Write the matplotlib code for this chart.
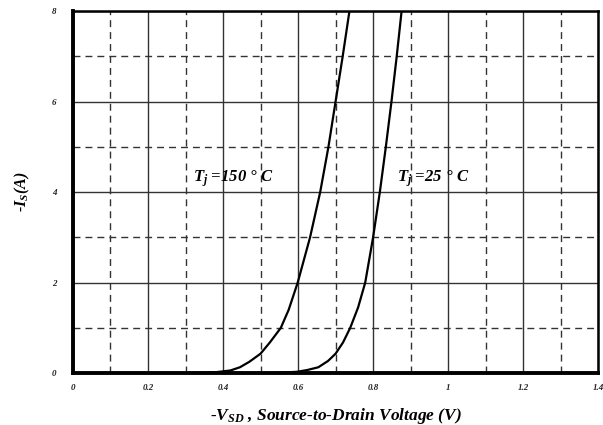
import matplotlib
matplotlib.use('Agg')
import matplotlib.pyplot as plt
from matplotlib.ticker import MultipleLocator

# curve readings (V, A)
v_150 = [0.0, 0.30, 0.38, 0.42, 0.445, 0.47, 0.50, 0.525, 0.554, 0.575, 0.599, 0.632,
         0.659, 0.681, 0.700, 0.719, 0.737]
i_150 = [0.0, 0.0, 0.02, 0.06, 0.13, 0.25, 0.43, 0.68, 1.0, 1.4, 2.0, 3.0,
         4.0, 5.0, 6.0, 7.0, 8.0]
v_25 = [0.527, 0.597, 0.625, 0.654, 0.68, 0.70, 0.72, 0.739, 0.76, 0.779, 0.800,
        0.818, 0.834, 0.849, 0.863, 0.876]
i_25 = [0.0, 0.03, 0.07, 0.13, 0.27, 0.43, 0.68, 1.0, 1.45, 2.0, 3.0,
        4.0, 5.0, 6.0, 7.0, 8.0]
x_ticks = [0, 0.2, 0.4, 0.6, 0.8, 1, 1.2, 1.4]
x_tick_labels = ['0', '0.2', '0.4', '0.6', '0.8', '1', '1.2', '1.4']
y_ticks = [0, 2, 4, 6, 8]

plt.rcParams['font.family'] = 'Liberation Serif'
plt.rcParams['mathtext.fontset'] = 'custom'
plt.rcParams['mathtext.rm'] = 'Liberation Serif:bold:italic'
plt.rcParams['mathtext.it'] = 'Liberation Serif:bold:italic'
plt.rcParams['mathtext.bf'] = 'Liberation Serif:bold:italic'

fig = plt.figure(figsize=(6.03, 4.25), dpi=100)
ax = fig.add_axes([0.121, 0.122, 0.871, 0.852])

ax.plot(v_150, i_150, color='black', lw=1.6)
ax.plot(v_25, i_25, color='black', lw=1.6)

ax.set_xlim(0, 1.4)
ax.set_ylim(0, 8)
ax.set_xticks(x_ticks)
ax.set_xticklabels(x_tick_labels)
ax.set_yticks(y_ticks)
ax.xaxis.set_minor_locator(MultipleLocator(0.1))
ax.yaxis.set_minor_locator(MultipleLocator(1))
ax.grid(which='major', color='#333333', lw=1.0, ls='-')
ax.grid(which='minor', color='#333333', lw=1.0, ls=(0, (5, 3.6)))
ax.tick_params(which='both', length=0)
ax.tick_params(axis='x', pad=8)
ax.tick_params(axis='y', pad=12)
for lab in ax.get_xticklabels() + ax.get_yticklabels():
    lab.set_fontsize(6.5)
    lab.set_fontweight('bold')
    lab.set_fontstyle('italic')
    lab.set_color('#222222')

ax.spines['left'].set_linewidth(2.8)
ax.spines['bottom'].set_linewidth(2.8)
ax.spines['top'].set_linewidth(1.8)
ax.spines['right'].set_linewidth(1.8)

ax.text(0.32, 4.3, r'$T_j$ =150 ° C', fontsize=12, fontweight='bold',
        fontstyle='italic', va='center', ha='left')
ax.text(0.865, 4.3, r'$T_j$ =25 ° C', fontsize=12, fontweight='bold',
        fontstyle='italic', va='center', ha='left')

ax.set_xlabel(r'-$V_{SD}$ , Source-to-Drain Voltage (V)', fontsize=12.5,
              fontweight='bold', fontstyle='italic', labelpad=10)
ax.set_ylabel(r'-$I_S$(A)', fontsize=11.5, fontweight='bold',
              fontstyle='italic', labelpad=14)

fig.savefig('out.png', dpi=100)
